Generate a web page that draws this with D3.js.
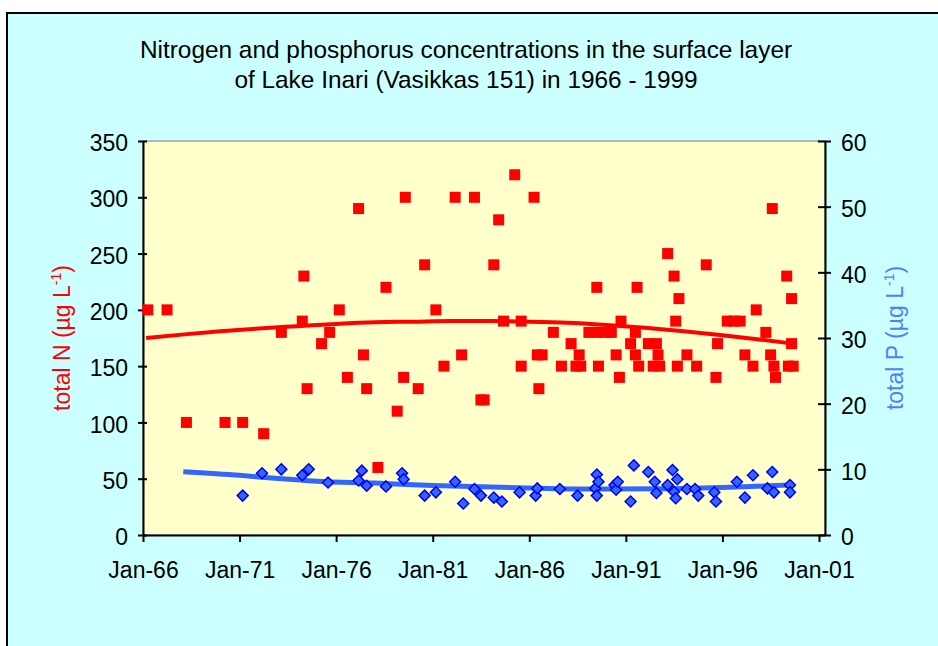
<!DOCTYPE html>
<html lang="en">
<head>
  <meta charset="UTF-8" />
  <title>Lake Inari N and P</title>
  <script src="https://d3js.org/d3.v7.min.js"></script>
  <style>
    body {
      margin: 0;
      background: #fff;
      font-family: "Liberation Sans", Arial, sans-serif;
    }

    svg {
      display: block;
    }

    .axis text {
      font-family: "Liberation Sans", Arial, sans-serif;
      font-size: 23px;
      fill: #000;
    }

    .axis path,
    .axis line {
      stroke: #000;
      stroke-width: 2px;
    }
  </style>
</head>

<body>
  <svg id="chart" width="938" height="646"></svg>

  <script>
    // total N (µg/l), left axis
    const nDates = ["1966-04", "1967-04", "1968-04", "1970-04", "1971-03", "1972-04", "1973-03", "1974-04", "1974-05", "1974-07",
      "1975-04", "1975-09", "1976-03", "1976-08", "1977-03", "1977-06", "1977-08", "1978-03", "1978-08", "1979-03",
      "1979-07", "1979-08", "1980-04", "1980-08", "1981-03", "1981-08", "1982-03", "1982-07", "1983-03", "1983-07",
      "1983-09", "1984-03", "1984-06", "1984-09", "1985-04", "1985-08", "1985-08", "1986-04", "1986-06", "1986-09",
      "1986-07", "1987-04", "1987-09", "1988-03", "1988-06", "1988-08", "1988-09", "1989-02", "1989-07", "1989-07",
      "1989-08", "1989-12", "1990-04", "1990-07", "1990-09", "1990-10", "1991-04", "1991-07", "1991-07", "1991-08",
      "1991-09", "1992-03", "1992-06", "1992-08", "1992-09", "1992-10", "1993-03", "1993-07", "1993-08", "1993-09",
      "1993-10", "1994-03", "1994-09", "1995-03", "1995-09", "1995-10", "1996-04", "1996-08", "1996-12", "1997-03",
      "1997-08", "1997-10", "1998-04", "1998-07", "1998-08", "1998-09", "1998-10", "1999-05", "1999-06", "1999-08",
      "1999-08", "1999-09"];
    const nValues = [200, 200, 100, 100, 100, 90, 180, 190, 230, 130,
      170, 180, 200, 140, 290, 160, 130, 60, 220, 110,
      140, 300, 130, 240, 200, 150, 300, 160, 300, 120,
      120, 240, 280, 190, 320, 190, 150, 300, 160, 160,
      130, 180, 150, 170, 150, 160, 150, 180, 180, 220,
      150, 180, 180, 160, 140, 190, 170, 180, 160, 220,
      150, 170, 150, 170, 160, 150, 250, 230, 190, 150,
      210, 160, 150, 240, 140, 170, 190, 190, 190, 160,
      150, 200, 180, 160, 290, 150, 140, 230, 150, 210,
      170, 150];

    // total P (µg/l), right axis
    const pDates = ["1971-03", "1972-03", "1973-03", "1974-04", "1974-08", "1975-08", "1977-03", "1977-05", "1977-08", "1978-08",
      "1979-06", "1979-07", "1980-08", "1981-03", "1982-03", "1982-08", "1983-03", "1983-07", "1984-03", "1984-08",
      "1985-07", "1986-05", "1986-06", "1987-08", "1988-07", "1989-06", "1989-07", "1989-07", "1989-08", "1990-06",
      "1990-07", "1990-08", "1991-04", "1991-06", "1992-03", "1992-07", "1992-08", "1993-03", "1993-06", "1993-07",
      "1993-08", "1993-09", "1994-03", "1994-08", "1994-10", "1995-08", "1995-09", "1996-10", "1997-03", "1997-08",
      "1998-05", "1998-08", "1998-09", "1999-07", "1999-07"];
    const pValues = [6.0, 9.4, 10.0, 9.1, 10.0, 8.0, 8.3, 9.8, 7.5, 7.4,
      9.4, 8.5, 6.0, 6.5, 8.1, 4.8, 7.0, 6.0, 5.7, 5.1,
      6.5, 6.0, 7.1, 7.0, 6.0, 7.1, 6.0, 9.2, 8.1, 7.6,
      6.9, 8.1, 5.1, 10.6, 9.6, 8.1, 6.4, 7.6, 9.9, 6.6,
      5.6, 8.5, 7.0, 7.0, 6.0, 6.5, 5.1, 8.1, 5.7, 9.1,
      7.1, 9.6, 6.5, 7.6, 6.5];

    // trend lines
    const nTrendDates = ["1966-03", "1968-01", "1970-01", "1972-01", "1974-01", "1976-01", "1978-01", "1980-01", "1982-01",
      "1984-01", "1986-01", "1988-01", "1990-01", "1992-01", "1994-01", "1996-01", "1998-01", "1999-09"];
    const nTrendValues = [175, 178, 181, 183.5, 185.5, 187.5, 189, 189.5, 190, 190, 189.5, 188.5, 186.5, 184, 181, 177.5, 173.5, 170];
    const pTrendDates = ["1968-02", "1971-01", "1973-01", "1975-01", "1978-01", "1981-01", "1984-01", "1987-01", "1990-01",
      "1993-01", "1996-01", "1999-07"];
    const pTrendValues = [9.65, 9.1, 8.6, 8.2, 7.9, 7.55, 7.3, 7.1, 7.0, 7.05, 7.25, 7.6];

    const xTicks = ["1966-01", "1971-01", "1976-01", "1981-01", "1986-01", "1991-01", "1996-01", "2001-01"];
    const nTicks = [0, 50, 100, 150, 200, 250, 300, 350];
    const pTicks = [0, 10, 20, 30, 40, 50, 60];

    const parse = d3.timeParse("%Y-%m");
    const svg = d3.select("#chart");

    // outer chart area
    svg.append("rect")
      .attr("x", 7).attr("y", 13)
      .attr("width", 940).attr("height", 650)
      .attr("fill", "#ccffff")
      .attr("stroke", "#000")
      .attr("stroke-width", 2);

    const plot = { left: 143, right: 825, top: 141, bottom: 535 };

    const x = d3.scaleTime()
      .domain([parse("1966-01"), new Date(2001, 3, 24)])
      .range([plot.left, plot.right]);
    const yN = d3.scaleLinear().domain([0, 350]).range([plot.bottom, plot.top]);
    const yP = d3.scaleLinear().domain([0, 60]).range([plot.bottom, plot.top]);

    svg.append("rect")
      .attr("x", plot.left).attr("y", plot.top)
      .attr("width", plot.right - plot.left).attr("height", plot.bottom - plot.top)
      .attr("fill", "#ffffcc")
      .attr("stroke", "#777")
      .attr("stroke-width", 1);

    // title
    const title = svg.append("text")
      .attr("text-anchor", "middle")
      .attr("font-size", 24.4)
      .attr("fill", "#000");
    title.append("tspan").attr("x", 466).attr("y", 58).text("Nitrogen and phosphorus concentrations in the surface layer");
    title.append("tspan").attr("x", 466).attr("y", 88).text("of Lake Inari (Vasikkas 151) in 1966 - 1999");

    // axes
    svg.append("g")
      .attr("class", "axis")
      .attr("transform", `translate(0,${plot.bottom})`)
      .call(d3.axisBottom(x)
        .tickValues(xTicks.map(parse))
        .tickFormat(d3.timeFormat("%b-%y"))
        .tickSizeInner(7).tickSizeOuter(0).tickPadding(20));

    const leftAxis = svg.append("g")
      .attr("class", "axis")
      .attr("transform", `translate(${plot.left},0)`)
      .call(d3.axisLeft(yN).tickValues(nTicks).tickSizeInner(5).tickSizeOuter(0).tickPadding(10));
    leftAxis.selectAll(".tick line").attr("x2", 4).attr("x1", -5);

    const rightAxis = svg.append("g")
      .attr("class", "axis")
      .attr("transform", `translate(${plot.right},0)`)
      .call(d3.axisRight(yP).tickValues(pTicks).tickSizeInner(6).tickSizeOuter(0).tickPadding(10));
    rightAxis.selectAll(".tick line").attr("x1", -7).attr("x2", 6);

    [leftAxis, rightAxis].forEach(g => g.selectAll(".tick text").attr("dy", "0.42em"));

    // axis titles
    function axisTitle(cx, label, color) {
      const t = svg.append("text")
        .attr("transform", `translate(${cx},338) rotate(-90)`)
        .attr("text-anchor", "middle")
        .attr("font-size", 23)
        .attr("fill", color);
      t.append("tspan").text(label + " (µg L");
      t.append("tspan").attr("font-size", 14).attr("dy", -9).text("-1");
      t.append("tspan").attr("dy", 9).text(")");
    }
    axisTitle(70, "total N", "#ff0000");
    axisTitle(903, "total P", "#4f7fff");

    const line = (xs, ys, yScale) => d3.line()
      .x((d, i) => x(parse(xs[i])))
      .y(d => yScale(d))
      .curve(d3.curveMonotoneX)(ys);

    // trend lines
    svg.append("path")
      .attr("d", line(nTrendDates, nTrendValues, yN))
      .attr("fill", "none")
      .attr("stroke", "#ff0000")
      .attr("stroke-width", 4);

    svg.append("path")
      .attr("d", line(pTrendDates, pTrendValues, yP))
      .attr("fill", "none")
      .attr("stroke", "#3366ff")
      .attr("stroke-width", 5);

    // N markers
    svg.append("g").selectAll("rect")
      .data(nValues)
      .join("rect")
      .attr("x", (d, i) => x(parse(nDates[i])) - 5.5)
      .attr("y", d => yN(d) - 5.5)
      .attr("width", 11)
      .attr("height", 11)
      .attr("fill", "#ff0000");

    // P markers
    svg.append("g").selectAll("path")
      .data(pValues)
      .join("path")
      .attr("transform", (d, i) => `translate(${x(parse(pDates[i]))},${yP(d)})`)
      .attr("d", "M0,-5.5L5.5,0L0,5.5L-5.5,0Z")
      .attr("fill", "#3366ff")
      .attr("stroke", "#0000ee")
      .attr("stroke-width", 1.5);
  </script>
</body>
</html>
